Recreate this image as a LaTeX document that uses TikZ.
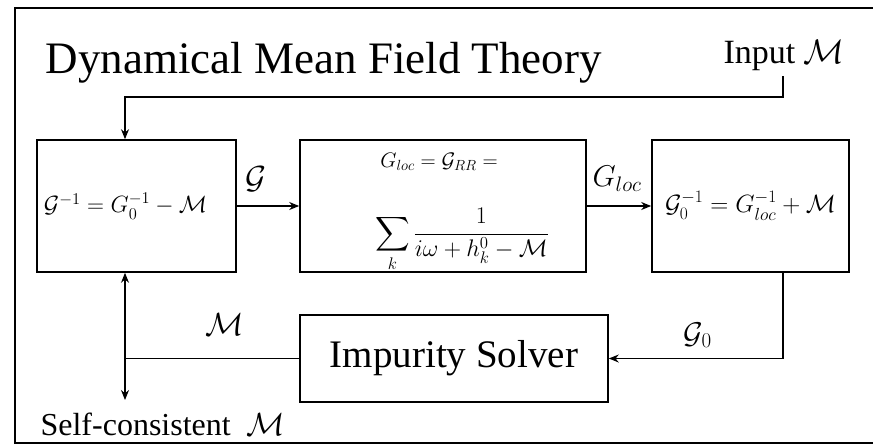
\RequirePackage{fix-cm}
\documentclass[tikz,border=0pt]{standalone}
\usepackage{amsmath,amssymb}
\usepackage{fontspec}
\setmainfont{Liberation Serif}
\usetikzlibrary{arrows.meta,positioning}

\newcommand\fsz[1]{\fontsize{#1}{#1}\selectfont}

\begin{document}
\begin{tikzpicture}[x=1pt, y=-1pt, >={Stealth[length=10pt,width=8pt]}, line width=1.2pt,
    blk/.style={draw, line width=1.6pt, inner sep=2pt},
    lbl/.style={inner sep=0pt}]
  \useasboundingbox (0,0) rectangle (873,445);
  % outer frame
  \draw[line width=1.2pt] (873,8) -- (15,8) -- (15,443) -- (873,443);

  % title and input
  \node[lbl, anchor=base west] (title) at (45,73) {\fsz{45}Dynamical Mean Field Theory};
  \node[lbl, anchor=base west] (input) at (723,63) {\fsz{34}Input $\mathcal{M}$};

  % Dyson box
  \node[blk, minimum width=199pt, minimum height=132pt] (dyson) at (136.5,206)
    {\fsz{23.5}$\mathcal{G}^{-1}=G_0^{-1}-\mathcal{M}$\hspace*{22pt}};

  % lattice sum box
  \node[blk, minimum width=286pt, minimum height=132pt] (lattice) at (443,206) {};
  \node[lbl] (latTop) at (439,162) {\fsz{21}$G_{loc}=\mathcal{G}_{RR}=$};
  \node[lbl] (latSum) at (462,240) {\fsz{24}$\displaystyle\sum_k\frac{1}{i\omega+h_k^0-\mathcal{M}}$};

  % Weiss box
  \node[blk, minimum width=197pt, minimum height=132pt] (weiss) at (750.5,206)
    {\fsz{25}$\mathcal{G}_0^{-1}=G_{loc}^{-1}+\mathcal{M}$};

  % impurity solver
  \node[blk, minimum width=308pt, minimum height=87pt] (solver) at (454,358.5)
    {\fsz{39}Impurity Solver};

  % forward arrows
  \draw[->, line width=1.6pt] (dyson) -- (lattice)
    node[lbl, pos=0.31, above=14pt] (gLbl) {\fsz{32}$\mathcal{G}$};
  \draw[->, line width=1.6pt] (lattice) -- (weiss)
    node[lbl, pos=0.47, above=14pt] (glocLbl) {\fsz{30}$G_{loc}$};

  % input loop
  \coordinate (fbTop) at (783,76);
  \coordinate (fbCorner) at (125,97);
  \coordinate (scBot) at (125,400);
  \draw[->] (fbTop) |- (fbCorner) -- (fbCorner |- dyson.north);

  % Weiss field to solver
  \draw[->] (weiss.south -| fbTop) |- (solver.east)
    node[lbl, pos=0.745, above=10pt] (g0Lbl) {\fsz{30}$\mathcal{G}_0$};

  % self energy back
  \draw (solver.west) -- (solver.west -| scBot)
    node[lbl, pos=0.43, above=22pt] (mLbl) {\fsz{32}$\mathcal{M}$};
  \draw[<->] (scBot |- dyson.south) -- (scBot);
  \node[lbl, anchor=base west] (selfc) at (40,435) {\fsz{32}Self-consistent\hspace{16pt}$\mathcal{M}$};
\end{tikzpicture}
\end{document}
